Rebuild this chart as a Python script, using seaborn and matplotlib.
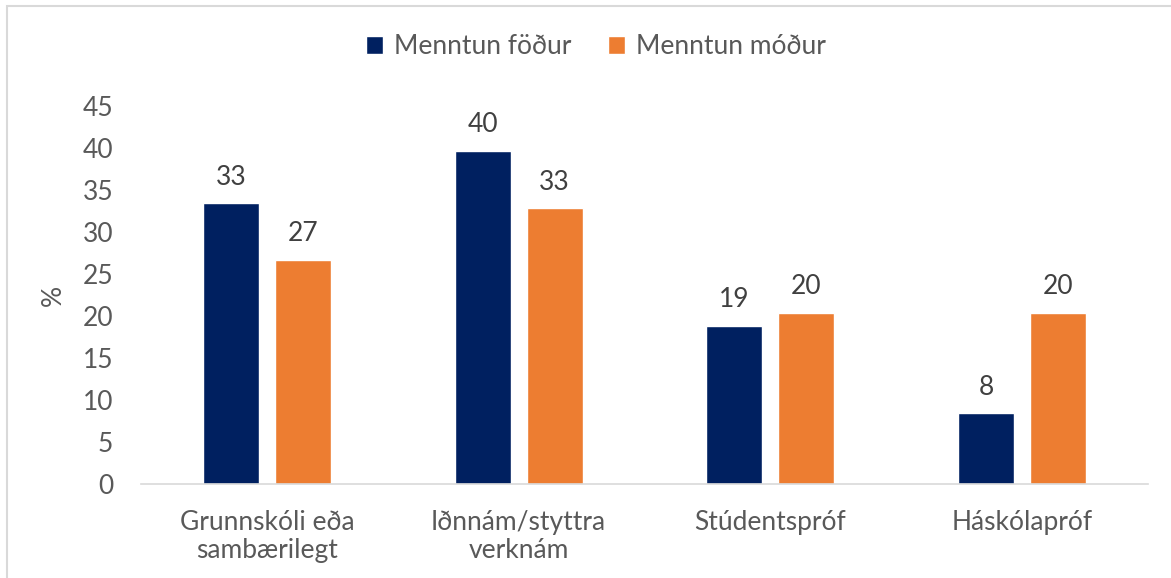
import seaborn as sns
import matplotlib.pyplot as plt
import matplotlib.patches as mpatches
import pandas as pd

sns.set_theme(style="white")
plt.rcParams['font.family'] = ['Lato', 'DejaVu Sans']

categories = ["Grunnskóli eða\nsambærilegt", "Iðnnám/styttra\nverknám", "Stúdentspróf", "Háskólapróf"]
series = ["Menntun föður", "Menntun móður"]
father = [33.4, 39.7, 18.8, 8.4]
mother = [26.7, 32.8, 20.4, 20.4]
yticks = [0, 5, 10, 15, 20, 25, 30, 35, 40, 45]

df = pd.DataFrame({
    "Menntun": categories * 2,
    "Hlutfall": father + mother,
    "Foreldri": [series[0]] * len(father) + [series[1]] * len(mother),
})

grey = "#595959"
W, H = 1171, 578
fig = plt.figure(figsize=(W / 100, H / 100), dpi=100)
ax = fig.add_axes([141 / W, 1 - 484 / H, (1148 - 141) / W, (484 - 106) / H])

sns.barplot(data=df, x="Menntun", y="Hlutfall", hue="Foreldri",
            palette=["#002060", "#ED7D31"], saturation=1, errorbar=None,
            width=0.572, gap=0.222, ax=ax)

for c in ax.containers:
    ax.bar_label(c, fmt="%.0f", padding=10, fontsize=19, color="#404040")

ax.set_ylim(0, 45)
ax.set_yticks(yticks)
ax.set_xlim(-0.5, 3.5)
ax.set_xlabel("")
ax.set_ylabel("%", fontsize=19, color=grey, labelpad=12)
ax.tick_params(axis="both", length=0, labelsize=19, labelcolor=grey)
ax.tick_params(axis="y", pad=20)
ax.tick_params(axis="x", pad=19)
for lbl in ax.get_xticklabels():
    lbl.set_linespacing(1.15)

sns.despine(ax=ax, left=True)
ax.spines["bottom"].set_color("#D9D9D9")
ax.spines["bottom"].set_linewidth(1.2)

handles, labels = ax.get_legend_handles_labels()
ax.legend(handles, labels, loc="center", bbox_to_anchor=(0.509, 0.919),
          bbox_transform=fig.transFigure, ncol=2, frameon=False, fontsize=19,
          handlelength=0.65, handleheight=0.65, handletextpad=0.4,
          columnspacing=1.4, labelcolor=grey)

# light frame round the chart (right and bottom edges fall outside the crop)
fig.patches.append(mpatches.Rectangle((7 / W, -0.1), 1.2, 1.1 - 6.5 / H,
                                      transform=fig.transFigure, fill=False,
                                      edgecolor="#D9D9D9", linewidth=1.5))

fig.savefig("out.png", dpi=100)
plt.close()
